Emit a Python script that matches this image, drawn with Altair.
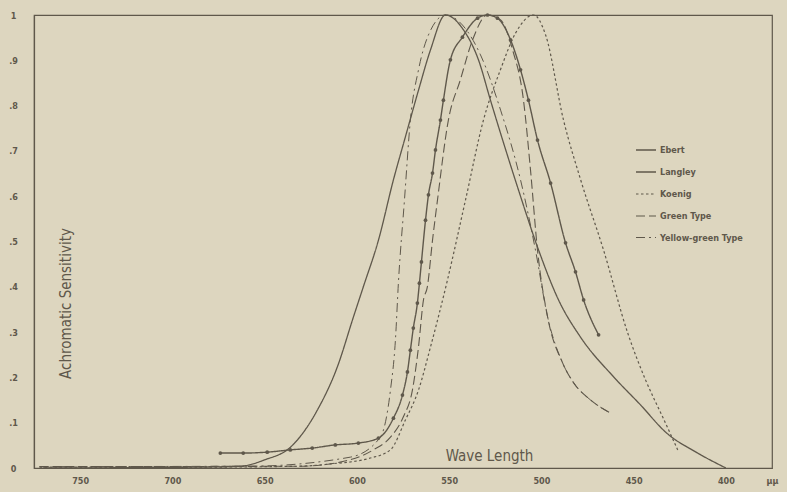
import altair as alt
import pandas as pd

INK = "#5f584b"
PAPER = "#ddd6bf"
FONT = "DejaVu Sans Condensed"

series_names = ["Ebert", "Langley", "Koenig", "Green Type", "Yellow-green Type"]

# wave length (μμ) and relative achromatic sensitivity for each observer / type
ebert_wl = [674, 661.6, 648.6, 636.1, 624.2, 611.7, 599.2, 588.3, 580.2, 575.3,
            572.6, 571, 569.4, 567.2, 566.1, 565, 562.8, 561.2, 559, 557.4,
            554.7, 553.1, 549.3, 542.8, 534.6, 529.2, 523.8, 516.7, 511.3, 507,
            502.1, 495, 486.9, 481.5, 477.1, 469]
ebert_s = [0.033, 0.033, 0.035, 0.04, 0.044, 0.051, 0.055, 0.066, 0.11, 0.161,
           0.212, 0.26, 0.309, 0.364, 0.408, 0.455, 0.547, 0.603, 0.651, 0.702,
           0.768, 0.812, 0.901, 0.951, 0.993, 1.0, 0.993, 0.945, 0.879, 0.812,
           0.724, 0.629, 0.497, 0.433, 0.371, 0.294]

langley_wl = [770, 685, 663, 650, 636, 621.4, 610.6, 601.9, 596.5, 588.3, 580.2,
              573.7, 566.6, 560.1, 552, 542.2, 534.1, 527.6, 512.9, 501.5, 490.7,
              478.8, 460.8, 446.2, 432.6, 415.3, 400]
langley_s = [0.0, 0.002, 0.004, 0.018, 0.046, 0.128, 0.223, 0.333, 0.40, 0.503, 0.636,
             0.731, 0.834, 0.923, 1.0, 0.967, 0.901, 0.812, 0.62, 0.481, 0.371,
             0.289, 0.201, 0.139, 0.079, 0.033, 0.0]

koenig_wl = [772, 685, 630.7, 614.4, 592.7, 581.8, 573.7, 566.6, 560.1, 550.9,
             541.1, 531.4, 522.2, 514, 504.2, 497.7, 488, 478.7, 466.3, 453.2,
             443.5, 434.3, 426.1]
koenig_s = [0.002, 0.002, 0.004, 0.009, 0.022, 0.04, 0.106, 0.172, 0.267, 0.415,
            0.592, 0.768, 0.879, 0.96, 1.0, 0.956, 0.768, 0.636, 0.481, 0.298,
            0.194, 0.113, 0.04]

green_wl = [772, 630.7, 609, 591.1, 581.8, 574.8, 569.9, 566.6, 563.9, 561.8, 559,
            556.3, 550.4, 543.9, 537.3, 529.2, 522.1, 515.6, 509.7, 505.9, 502.1,
            496.6, 488.5, 482.5, 473.3, 462.5]
green_s = [0.003, 0.004, 0.013, 0.04, 0.068, 0.113, 0.172, 0.267, 0.371, 0.40, 0.503,
           0.592, 0.768, 0.857, 0.945, 1.0, 0.989, 0.923, 0.812, 0.658, 0.481,
           0.333, 0.232, 0.188, 0.15, 0.121]

yellow_green_wl = [772, 657.8, 603.5, 587.3, 581.8, 579.1, 577.5, 574.2, 571, 566.6,
                   561.2, 552, 542.8, 533, 522.1, 511.3, 503.2, 496.6, 488.5, 482.5,
                   473.3, 462.5]
yellow_green_s = [0.003, 0.004, 0.024, 0.068, 0.172, 0.283, 0.408, 0.592, 0.768, 0.879,
                  0.956, 1.0, 0.978, 0.912, 0.79, 0.636, 0.481, 0.333, 0.232, 0.188,
                  0.15, 0.121]

x_ticks = [750, 700, 650, 600, 550, 500, 450, 400, 375]
y_ticks = [0, 0.1, 0.2, 0.3, 0.4, 0.5, 0.6, 0.7, 0.8, 0.9, 1.0]

dash_styles = [[1, 0], [1, 0], [2.5, 2.5], [9, 4], [9, 4, 2, 4]]
line_widths = [1.4, 1.0, 1.0, 1.8, 1.6]

frames = []
for name, wl, s in [
    ("Ebert", ebert_wl, ebert_s),
    ("Langley", langley_wl, langley_s),
    ("Koenig", koenig_wl, koenig_s),
    ("Green Type", green_wl, green_s),
    ("Yellow-green Type", yellow_green_wl, yellow_green_s),
]:
    frames.append(pd.DataFrame({"series": name, "wave": wl, "sens": s}))
df = pd.concat(frames, ignore_index=True)

x_enc = alt.X(
    "wave:Q",
    scale=alt.Scale(domain=[375, 775], reverse=True, nice=False, zero=False),
    axis=alt.Axis(
        values=x_ticks,
        labelExpr="datum.value == 375 ? 'μμ' : datum.label",
        title="Wave Length",
        titleX=455,
        titleY=-13,
        titleBaseline="middle",
        titleAnchor=None,
        titleFontSize=15,
        titleFontWeight="normal",
        ticks=False,
        tickSize=0,
        labelPadding=12,
        labelBaseline="middle",
        labelFlush=False,
        grid=False,
    ),
)
y_enc = alt.Y(
    "sens:Q",
    scale=alt.Scale(domain=[0, 1], nice=False),
    axis=alt.Axis(
        values=y_ticks,
        labelExpr="datum.value == 0 ? '0' : datum.value == 1 ? '1' : '.' + round(datum.value * 10)",
        title="Achromatic Sensitivity",
        titleAngle=270,
        titleX=31,
        titleY=288,
        titleAlign="center",
        titleBaseline="middle",
        titleFontSize=15,
        titleFontWeight="normal",
        ticks=False,
        tickSize=0,
        labelAlign="center",
        labelPadding=21,
        labelFlush=False,
        grid=False,
    ),
)

lines = alt.Chart(df).mark_line(color=INK, interpolate="monotone").encode(
    x=x_enc,
    y=y_enc,
    strokeDash=alt.StrokeDash(
        "series:N",
        scale=alt.Scale(domain=series_names, range=dash_styles),
        legend=alt.Legend(
            title=None,
            orient="none",
            legendX=601,
            legendY=124,
            symbolType="stroke",
            symbolSize=400,
            symbolStrokeColor=INK,
            symbolStrokeWidth=1.6,
            labelFont=FONT,
            labelFontSize=9,
            labelColor=INK,
            labelFontWeight="bold",
            rowPadding=6,
            labelOffset=3,
        ),
    ),
    strokeWidth=alt.StrokeWidth(
        "series:N",
        scale=alt.Scale(domain=series_names, range=line_widths),
        legend=None,
    ),
)

ebert_dots = (
    alt.Chart(df[df["series"] == "Ebert"])
    .mark_point(filled=True, color=INK, size=14, opacity=1)
    .encode(x="wave:Q", y="sens:Q")
)

chart = (
    alt.layer(lines, ebert_dots)
    .properties(
        width=738,
        height=453,
        background=PAPER,
        padding={"left": 34, "top": 15, "right": 15, "bottom": 24},
        autosize=alt.AutoSizeParams(type="none"),
    )
    .configure_view(stroke=INK, strokeWidth=1.2)
    .configure_axis(
        domainColor=INK,
        domainWidth=1.2,
        labelColor=INK,
        labelFont=FONT,
        labelFontSize=9,
        labelFontWeight="bold",
        titleColor=INK,
        titleFont=FONT,
    )
)

chart.save("out.html", embed_options={"renderer": "svg", "actions": False})
